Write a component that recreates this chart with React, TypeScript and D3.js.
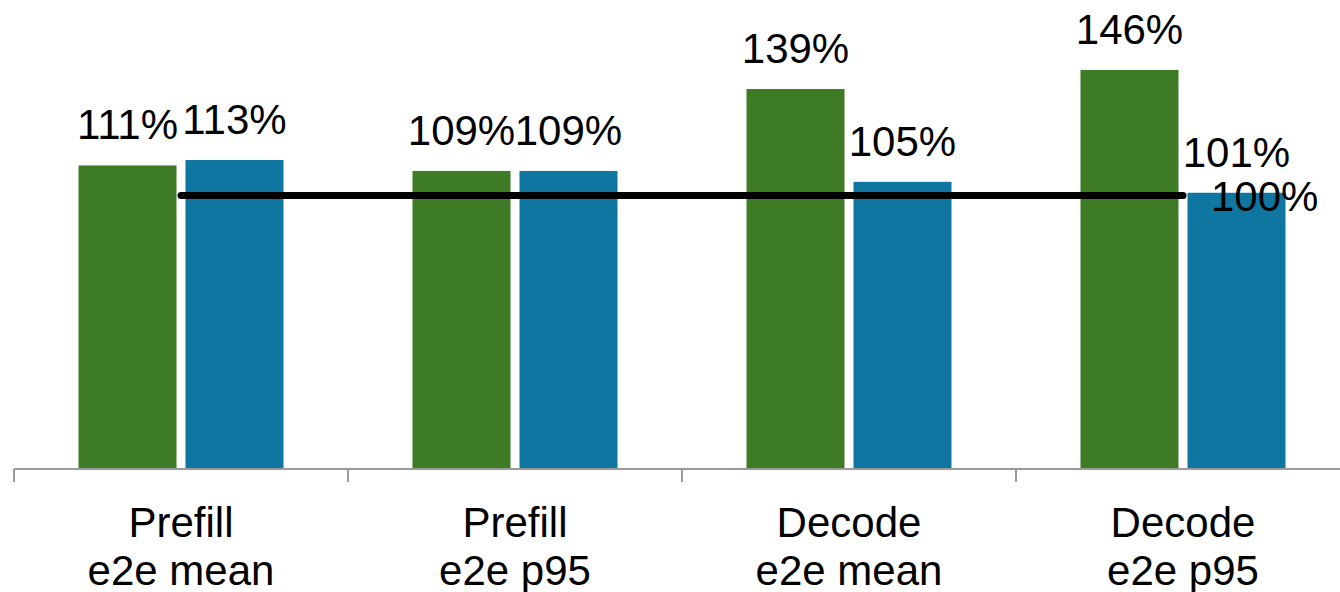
import React from "react";
import * as d3 from "d3";

const categories = ["Prefill|e2e mean", "Prefill|e2e p95", "Decode|e2e mean", "Decode|e2e p95"];
const seriesNames = ["green", "blue"];
const greenValues = [111, 109, 139, 146];
const blueValues = [113, 109, 105, 101];
const lineValues = [100, 100, 100, 100];
const lineLabel = "100%";

const W = 1340;
const H = 592;
const COLORS: Record<string, string> = { green: "#3D7B24", blue: "#0F76A2" };
const FONT = "'Liberation Sans', Arial, sans-serif";

export default function App() {
  const x = d3.scaleBand<string>().domain(categories).range([14, 1350]).padding(0);
  const y = d3.scaleLinear().domain([0, 100]).range([468.5, 195.5]);
  const bw = x.bandwidth();
  const inner = 205;
  const x1 = d3
    .scaleBand<string>()
    .domain(seriesNames)
    .range([(bw - inner) / 2, (bw + inner) / 2])
    .paddingInner(0.0841)
    .paddingOuter(0);

  const data = [greenValues, blueValues];
  const line = d3
    .line<number>()
    .x((_, i) => (x(categories[i]) as number) + bw / 2)
    .y((d) => y(d));

  const lastX = (x(categories[categories.length - 1]) as number) + bw / 2;
  const lastY = y(lineValues[lineValues.length - 1]);

  return (
    <svg
      width={W}
      height={H}
      style={{ position: "absolute", left: 0, top: 0, background: "#fff" }}
      fontFamily={FONT}
    >
      {categories.map((c) => (
        <g key={c} transform={`translate(${x(c)},0)`}>
          {seriesNames.map((s, si) => {
            const v = data[si][categories.indexOf(c)];
            const bx = x1(s) as number;
            return (
              <g key={s}>
                <rect x={bx} y={y(v)} width={x1.bandwidth()} height={y(0) - y(v)} fill={COLORS[s]} />
                <text
                  x={bx + x1.bandwidth() / 2}
                  y={y(v) - 26}
                  textAnchor="middle"
                  fontSize={42}
                  fill="#000"
                >
                  {v}%
                </text>
              </g>
            );
          })}
        </g>
      ))}
      {/* axis */}
      <line x1={14} x2={W} y1={469} y2={469} stroke="#9a9a9a" strokeWidth={2} />
      {categories.map((c) => (
        <line key={"t" + c} x1={(x(c) as number) + 0} x2={(x(c) as number) + 0} y1={469} y2={482} stroke="#9a9a9a" strokeWidth={2} />
      ))}
      {categories.map((c) => {
        const [a, b] = c.split("|");
        const cx = (x(c) as number) + bw / 2;
        return (
          <text key={"l" + c} x={cx} textAnchor="middle" fontSize={42} fill="#000">
            <tspan x={cx} y={537}>{a}</tspan>
            <tspan x={cx} y={585}>{b}</tspan>
          </text>
        );
      })}
      <path d={line(lineValues) || ""} fill="none" stroke="#000" strokeWidth={7} strokeLinecap="round" />
      <text x={lastX + 28} y={lastY + 15} fontSize={42} fill="#000">
        {lineLabel}
      </text>
    </svg>
  );
}
